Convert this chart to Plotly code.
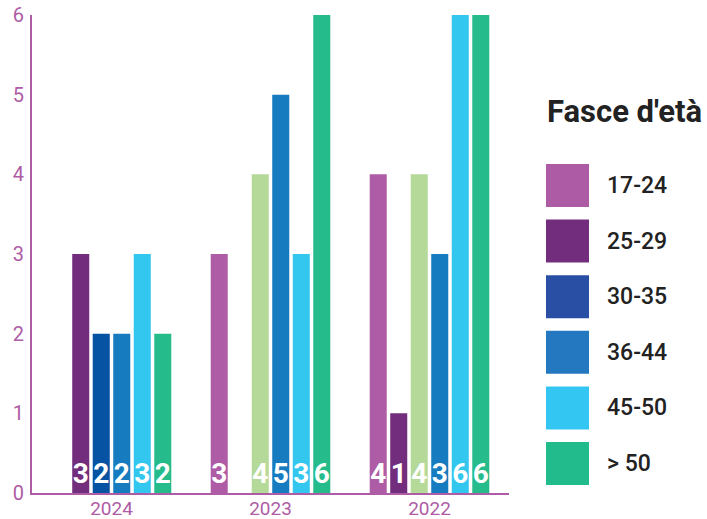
import plotly.graph_objects as go

years = ["2024", "2023", "2022"]
series_names = ["17-24", "25-29", "30-35", "36-44", "45-50", "> 50"]
v_17_24 = [0, 3, 4]
v_25_29 = [3, 0, 1]
v_30_35 = [2, 4, 4]
v_36_44 = [2, 5, 3]
v_45_50 = [3, 3, 6]
v_over50 = [2, 6, 6]
values = [v_17_24, v_25_29, v_30_35, v_36_44, v_45_50, v_over50]

legend_colors = ["#ad5ba5", "#722e7c", "#284fa4", "#2478c0", "#34c6f2", "#22bb8c"]
bar_colors = [
    ["#ae5ca5"] * 3,
    ["#722e7c"] * 3,
    ["#0753a3", "#b5d998", "#b5d998"],
    ["#177bbf"] * 3,
    ["#33c6ef"] * 3,
    ["#25bb8b"] * 3,
]

axis_col = "#ae5ca5"
W, H = 707, 519
L, R, T, B = 32, 509, 15, 493

fig = go.Figure()
for name, vals, cols in zip(series_names, values, bar_colors):
    fig.add_trace(go.Bar(
        x=years, y=vals, name=name,
        marker=dict(color=cols, line=dict(width=0)),
        text=[str(v) if v else "" for v in vals],
        textposition="inside", insidetextanchor="start",
        constraintext="none", textangle=0,
        textfont=dict(family="Roboto", size=28, color="white", weight="bold"),
        showlegend=False, hoverinfo="skip",
    ))

def px(x):
    return (x - L) / (R - L)

def py(y):
    return (B - y) / (B - T)

# manual legend
fig.add_annotation(x=px(545), y=py(112), xref="paper", yref="paper",
                   text="<b>Fasce d'età</b>", showarrow=False,
                   xanchor="left", yanchor="middle",
                   font=dict(family="Roboto", size=31, color="#222222"))
top0 = 164
step = 55.6
for i, (name, col) in enumerate(zip(series_names, legend_colors)):
    y0 = top0 + i * step
    fig.add_shape(type="rect", xref="paper", yref="paper",
                  x0=px(546), x1=px(589), y0=py(y0), y1=py(y0 + 43),
                  fillcolor=col, line=dict(width=0))
    fig.add_annotation(x=px(605), y=py(y0 + 21.5), xref="paper", yref="paper",
                       text=name, showarrow=False, xanchor="left", yanchor="middle",
                       font=dict(family="Roboto", size=23, color="#222222", weight=500))

fig.update_layout(
    width=W, height=H,
    margin=dict(l=L, r=W - R, t=T, b=H - B, pad=0, autoexpand=False),
    paper_bgcolor="white", plot_bgcolor="white",
    barmode="group", bargap=0.226, bargroupgap=0.17,
    font=dict(family="Roboto"),
)
fig.update_xaxes(
    showline=True, linecolor=axis_col, linewidth=2, showgrid=False, zeroline=False,
    ticks="", automargin=False, ticklabelstandoff=-3,
    tickfont=dict(family="Roboto", size=19, color=axis_col),
)
fig.update_yaxes(
    range=[0, 6], dtick=1, showline=True, linecolor=axis_col, linewidth=2,
    showgrid=False, zeroline=False, ticks="", ticklabelstandoff=2, automargin=False,
    tickfont=dict(family="Roboto", size=20, color=axis_col),
)

fig.write_html("out.html", config={"displayModeBar": False},
               post_script="document.body.style.margin='0';document.body.style.overflow='hidden';")
